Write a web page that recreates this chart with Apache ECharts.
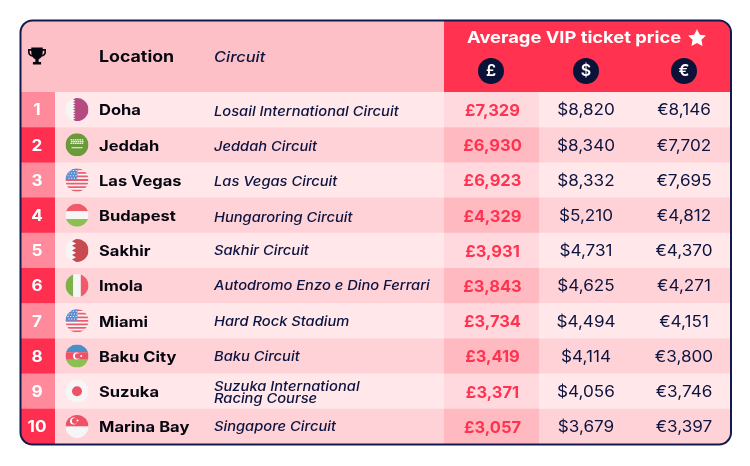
<!DOCTYPE html>
<html>
<head>
<meta charset="utf-8">
<title>Average VIP ticket price</title>
<style>
  html, body { margin: 0; background: #fff; }
  #chart { width: 750px; height: 466px; }
</style>
<script src="https://cdn.jsdelivr.net/npm/echarts@6/dist/echarts.min.js"></script>
</head>
<body>
<div id="chart"></div>
<script>
// table data
const ranks = [1, 2, 3, 4, 5, 6, 7, 8, 9, 10];
const locations = ['Doha', 'Jeddah', 'Las Vegas', 'Budapest', 'Sakhir', 'Imola', 'Miami', 'Baku City', 'Suzuka', 'Marina Bay'];
const flags = ['qatar', 'saudi', 'usa', 'hungary', 'bahrain', 'italy', 'usa', 'azerbaijan', 'japan', 'singapore'];
const circuits = [
  'Losail International Circuit', 'Jeddah Circuit', 'Las Vegas Circuit', 'Hungaroring Circuit', 'Sakhir Circuit',
  'Autodromo Enzo e Dino Ferrari', 'Hard Rock Stadium', 'Baku Circuit', 'Suzuka International\nRacing Course', 'Singapore Circuit'
];
const gbp = [7329, 6930, 6923, 4329, 3931, 3843, 3734, 3419, 3371, 3057];
const usd = [8820, 8340, 8332, 5210, 4731, 4625, 4494, 4114, 4056, 3679];
const eur = [8146, 7702, 7695, 4812, 4370, 4271, 4151, 3800, 3746, 3397];

const FONT = 'Inter, "Noto Sans", sans-serif';
const NAVY = '#0c1440';
const RED = '#ff3350';
const FLAG_R = 11.5;

// column edges and text anchors, in pixels of the x axis
const COL = { left: 21, rank: 55, price: 444, gbpEnd: 539, right: 730, flag: 77, name: 99, circuit: 214, rankText: 37, gbp: 492.5, usd: 586, eur: 684 };

const money = (sym, v) => sym + v.toLocaleString('en-US');

// Inter runs narrower than the original font, so text is stretched sideways
function label(x, y, text, font, color, stretch, extra) {
  return {
    type: 'text', x, y, scaleX: stretch,
    style: Object.assign({
      x: 0, y: 0, text, fill: color,
      font: font + ' ' + FONT,
      align: 'left', verticalAlign: 'middle'
    }, extra || {})
  };
}

function band(y, h, c) {
  return { type: 'rect', shape: { x: -FLAG_R, y, width: FLAG_R * 2, height: h }, style: { fill: c } };
}

function zigzag(x, teeth, depth, c) {
  // serrated hoist edge used by Qatar and Bahrain
  const pts = [[FLAG_R, -FLAG_R], [x, -FLAG_R]];
  const step = FLAG_R * 2 / (teeth * 2);
  for (let i = 1; i <= teeth * 2; i++) {
    pts.push([i % 2 ? x - depth : x, -FLAG_R + step * i]);
  }
  pts.push([FLAG_R, FLAG_R]);
  return { type: 'polygon', shape: { points: pts }, style: { fill: c } };
}

function crescent(cx, cy, r, fg, bg) {
  return [
    { type: 'circle', shape: { cx, cy, r }, style: { fill: fg } },
    { type: 'circle', shape: { cx: cx + r * 0.35, cy, r: r * 0.8 }, style: { fill: bg } }
  ];
}

function flagParts(name) {
  const R = FLAG_R, h = R * 2;
  switch (name) {
    case 'qatar':
      return [band(-R, h, '#f6f6f6'), zigzag(-1.5, 9, 2.5, '#b44a80')];
    case 'bahrain':
      return [band(-R, h, '#f6f6f6'), zigzag(-1, 5, 4, '#c64a50')];
    case 'saudi': {
      const parts = [band(-R, h, '#6b9a3a')];
      // shahada as broken white strokes, then the sword
      for (let row = 0; row < 3; row++) {
        for (let c = 0; c < 6; c++) {
          parts.push({ type: 'rect', shape: { x: -6.5 + c * 2.2 + (row % 2) * 0.5, y: -5.5 + row * 1.7, width: 1.7, height: 1.2 }, style: { fill: '#eef2e4' } });
        }
      }
      parts.push({ type: 'rect', shape: { x: -5.5, y: 2.5, width: 11, height: 0.9 }, style: { fill: '#f4f6ee' } });
      return parts;
    }
    case 'usa': {
      const parts = [band(-R, h, '#f6f6f6')];
      for (let i = 0; i < 7; i++) parts.push(band(-R + i * h / 6.5, h / 13, '#ef5b6d'));
      parts.push({ type: 'rect', shape: { x: -R, y: -R, width: 12, height: 11.5 }, style: { fill: '#5b8dd3' } });
      for (let row = 0; row < 4; row++) {
        for (let c = 0; c < 4; c++) {
          parts.push({ type: 'rect', shape: { x: -9.5 + c * 2.7 + (row % 2), y: -10 + row * 2.6, width: 1, height: 1 }, style: { fill: '#fff' } });
        }
      }
      return parts;
    }
    case 'hungary':
      return [band(-R, h / 3, '#ef5b6d'), band(-R + h / 3, h / 3, '#f6f6f6'), band(-R + 2 * h / 3, h / 3, '#8cc152')];
    case 'italy':
      return [
        { type: 'rect', shape: { x: -R, y: -R, width: h / 3, height: h }, style: { fill: '#7fb04a' } },
        { type: 'rect', shape: { x: -R + h / 3, y: -R, width: h / 3, height: h }, style: { fill: '#f6f6f6' } },
        { type: 'rect', shape: { x: -R + 2 * h / 3, y: -R, width: h / 3, height: h }, style: { fill: '#ef5b6d' } }
      ];
    case 'azerbaijan':
      return [band(-R, h / 3, '#4a90c8'), band(-R + h / 3, h / 3, '#ef5266'), band(-R + 2 * h / 3, h / 3, '#8cc152')]
        .concat(crescent(-0.5, 0, 3.5, '#fff', '#ef5266'))
        .concat([{ type: 'circle', shape: { cx: 4.2, cy: 0, r: 1 }, style: { fill: '#fff' } }]);
    case 'japan':
      return [band(-R, h, '#f6f6f6'), { type: 'circle', shape: { cx: 0, cy: 0, r: 5 }, style: { fill: '#ef5266' } }];
    case 'singapore':
      return [band(-R, R, '#ef5266'), band(0, R, '#f6f6f6')]
        .concat(crescent(-3.5, -5.5, 3.5, '#fff', '#ef5266'))
        .concat([{ type: 'circle', shape: { cx: 0.5, cy: -6, r: 1 }, style: { fill: '#fff' } }]);
  }
  return [];
}

function renderRow(params, api) {
  const i = api.value(1);
  const rowH = api.size([0, 1])[1];
  const y = api.coord([0, i])[1];
  const top = y - rowH / 2;
  const X = (v) => api.coord([v, i])[0];
  const odd = i % 2 === 0;
  const last = i === ranks.length - 1;
  const rect = (x0, x1, fill, r) => ({
    type: 'rect',
    shape: { x: X(x0), y: top, width: X(x1) - X(x0), height: rowH + 0.5, r: r || 0 },
    style: { fill }
  });
  const centered = { align: 'center' };
  const twoLines = circuits[i].includes('\n');
  const circuitNudge = i < 4 ? 2.5 : (twoLines ? 1.5 : 0.8); // first rows sit a little lower in the original
  const children = [
    rect(COL.left, COL.rank, odd ? '#ff8a9b' : '#ff2f50', last ? [0, 0, 0, 11] : 0),
    rect(COL.rank, COL.price, odd ? '#ffe7ea' : '#ffd2d7'),
    rect(COL.price, COL.gbpEnd, odd ? '#ffd9dd' : '#ffb9c1'),
    rect(COL.gbpEnd, COL.right, odd ? '#ffe7ea' : '#ffd2d7', last ? [0, 0, 11, 0] : 0),
    label(X(COL.rankText), y + 1, String(ranks[i]), '700 16px', '#fff', 1.07, centered),
    {
      type: 'group', x: X(COL.flag), y,
      clipPath: { type: 'circle', shape: { cx: 0, cy: 0, r: FLAG_R } },
      children: flagParts(flags[i])
    },
    label(X(COL.name), y + 1.5, locations[i], '700 14.5px', '#05060f', 1.14),
    label(X(COL.circuit), y + circuitNudge, circuits[i], 'italic 500 13px', NAVY, 1.13, { lineHeight: 12 }),
    label(X(COL.gbp), y + 1.5, money('£', gbp[i]), '700 16px', RED, 1.03, centered),
    label(X(COL.usd), y + 1, money('$', usd[i]), '400 16px', NAVY, 1.07, centered),
    label(X(COL.eur), y + 1, money('€', eur[i]), '400 16px', NAVY, 1.07, centered)
  ];
  return { type: 'group', children };
}

// header icons, path shapes only work inside a custom series
const TROPHY = 'M5 1H19V3H23V7C23 10 20.5 12 17.5 12.5C16.7 14 15.5 15 14 15.4V19H17V22H7V19H10V15.4C8.5 15 7.3 14 6.5 12.5C3.5 12 1 10 1 7V3H5ZM5 5H3V7C3 8.5 4 9.7 5.5 10.2C5.2 9 5 7 5 5ZM19 5C19 7 18.8 9 18.5 10.2C20 9.7 21 8.5 21 7V5Z';
const STAR = 'M12 1L15.4 8.3L23 9.2L17.4 14.6L18.8 22.5L12 18.6L5.2 22.5L6.6 14.6L1 9.2L8.6 8.3Z';

function renderIcons() {
  return {
    type: 'group',
    children: [
      { type: 'path', shape: { pathData: TROPHY, layout: 'cover', x: 28, y: 47.5, width: 18, height: 17 }, style: { fill: '#05060f' } },
      { type: 'path', shape: { pathData: STAR, layout: 'cover', x: 688, y: 29, width: 18, height: 17 }, style: { fill: '#fff' } }
    ]
  };
}

function coin(cx, sym) {
  return [
    { type: 'circle', z: 3, shape: { cx, cy: 71, r: 13 }, style: { fill: '#0b1238' } },
    { type: 'text', z: 4, style: { x: cx, y: 71.5, text: sym, fill: '#fff', font: '600 16px ' + FONT, align: 'center', verticalAlign: 'middle' } }
  ];
}

function headerText(x, y, text, font, fill, stretch) {
  return {
    type: 'text', z: 4, x, y, scaleX: stretch,
    style: { x: 0, y: 0, text, fill, font: font + ' ' + FONT, align: 'left', verticalAlign: 'middle' }
  };
}

const chart = echarts.init(document.getElementById('chart'));
chart.setOption({
  animation: false,
  backgroundColor: '#fff',
  grid: { left: 0, right: 0, top: 92, bottom: 22 },
  xAxis: { type: 'value', min: 0, max: 750, show: false },
  yAxis: { type: 'category', data: locations, inverse: true, show: false },
  series: [{
    type: 'custom',
    clip: false,
    silent: true,
    encode: { x: 0, y: 1 },
    data: ranks.map((r, i) => [0, i]),
    renderItem: renderRow
  }, {
    type: 'custom',
    clip: false,
    silent: true,
    z: 5,
    encode: { x: 0, y: 1 },
    data: [[0, 0]],
    renderItem: renderIcons
  }],
  graphic: [
    { type: 'rect', z: 1, shape: { x: 21, y: 21, width: 423, height: 71, r: [11, 0, 0, 0] }, style: { fill: '#fdc0c7' } },
    { type: 'rect', z: 1, shape: { x: 444, y: 21, width: 286, height: 71, r: [0, 11, 0, 0] }, style: { fill: RED } },
    headerText(99, 57.5, 'Location', '700 15.5px', '#05060f', 1.146),
    headerText(214, 58, 'Circuit', 'italic 500 14px', NAVY, 1.17),
    headerText(467, 38.5, 'Average VIP ticket price', '700 16.5px', '#fff', 1.11),
    ...coin(491, '£'), ...coin(586, '$'), ...coin(684, '€'),
    { type: 'rect', z: 10, shape: { x: 20.5, y: 20.5, width: 710.5, height: 424, r: 12 }, style: { fill: 'none', stroke: '#111a4a', lineWidth: 2 } }
  ]
});
</script>
</body>
</html>
